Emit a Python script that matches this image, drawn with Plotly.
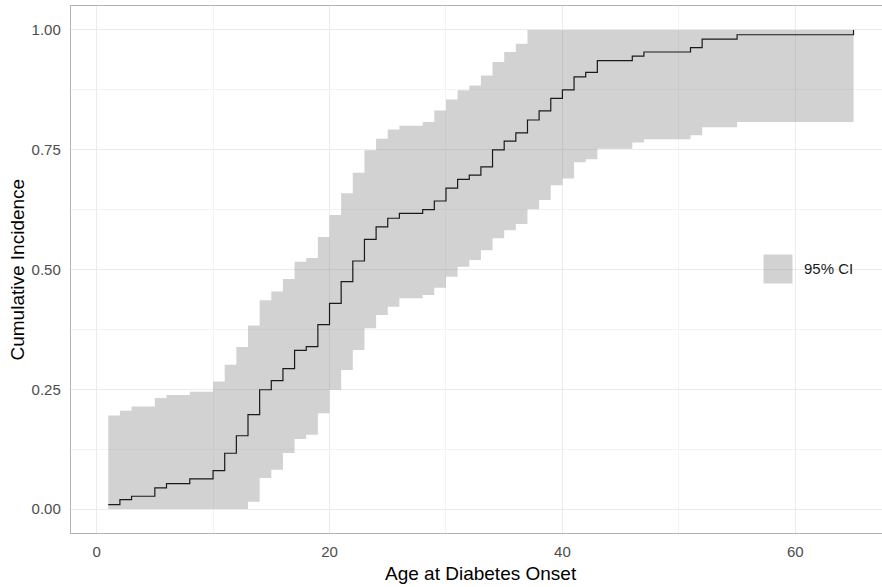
import plotly.graph_objects as go

# ---- data ----
ages = [1, 2, 3, 5, 6, 8, 10, 11, 12, 13, 14, 15, 16, 17, 18, 19, 20, 21, 22, 23,
        24, 25, 26, 28, 29, 30, 31, 32, 33, 34, 35, 36, 37, 38, 39, 40, 41, 42, 43,
        46, 47, 51, 52, 55, 65]
cum_inc = [0.0094, 0.0198, 0.0267, 0.044, 0.053, 0.063, 0.080, 0.1165, 0.153, 0.197,
           0.249, 0.268, 0.293, 0.331, 0.339, 0.385, 0.4295, 0.4746, 0.5177, 0.563,
           0.589, 0.607, 0.617, 0.625, 0.643, 0.670, 0.688, 0.697, 0.714, 0.7496,
           0.768, 0.785, 0.812, 0.831, 0.857, 0.875, 0.902, 0.9115, 0.936,
           0.9455, 0.954, 0.963, 0.981, 0.990, 1.0]
ci_lower = [0, 0, 0, 0, 0, 0, 0, 0, 0, 0.015,
            0.065, 0.082, 0.117, 0.146, 0.155, 0.200, 0.249, 0.290, 0.332, 0.3775,
            0.405, 0.4225, 0.440, 0.447, 0.462, 0.485, 0.506, 0.520, 0.540, 0.565,
            0.582, 0.595, 0.626, 0.645, 0.676, 0.690, 0.724, 0.730, 0.752,
            0.765, 0.772, 0.780, 0.797, 0.808, 0.813]
ci_upper = [0.195, 0.205, 0.214, 0.232, 0.238, 0.245, 0.266, 0.301, 0.338, 0.383,
            0.436, 0.454, 0.480, 0.516, 0.524, 0.568, 0.6135, 0.659, 0.702, 0.749,
            0.773, 0.792, 0.800, 0.808, 0.832, 0.855, 0.874, 0.884, 0.905, 0.933,
            0.954, 0.971, 1.0, 1.0, 1.0, 1.0, 1.0, 1.0, 1.0,
            1.0, 1.0, 1.0, 1.0, 1.0, 1.0]

x_ticks = [0, 20, 40, 60]
y_ticks = [0, 0.25, 0.5, 0.75, 1.0]
y_tick_labels = ["0.00", "0.25", "0.50", "0.75", "1.00"]
x_title = "Age at Diabetes Onset"
y_title = "Cumulative Incidence"
legend_label = "95% CI"

# ---- style ----
W, H = 882, 587
ML, MR, MT, MB = 71, 0, 6, 54
PW, PH = W - ML - MR, H - MT - MB
FONT = "Liberation Sans, Arial, sans-serif"
RIBBON = "rgba(127,127,127,0.35)"
GRID = "#ebebeb"
GRID_MINOR = "#f3f3f3"
BORDER = "#b3b3b3"
TICKTXT = "#4d4d4d"


def px_x(p):
    return (p - ML) / PW


def px_y(p):
    return (H - MB - p) / PH


fig = go.Figure()
fig.add_trace(go.Scatter(x=ages, y=ci_lower, mode="lines", line=dict(width=0, shape="hv"),
                         hoverinfo="skip", showlegend=False))
fig.add_trace(go.Scatter(x=ages, y=ci_upper, mode="lines", line=dict(width=0, shape="hv"),
                         fill="tonexty", fillcolor=RIBBON, hoverinfo="skip", showlegend=False))
fig.add_trace(go.Scatter(x=ages, y=cum_inc, mode="lines",
                         line=dict(color="#1a1a1a", width=1.2, shape="hv"), showlegend=False))

x_lo = min(ages) - 0.05 * (max(ages) - min(ages))
x_hi = x_lo + (max(ages) - min(ages)) * 1.1 * (PW / 819.8)

fig.update_xaxes(range=[x_lo, x_hi], tickvals=x_ticks, showgrid=True, gridcolor=GRID, gridwidth=1,
                 minor=dict(dtick=10, tick0=0, showgrid=True, gridcolor=GRID_MINOR, gridwidth=1),
                 showline=True, linecolor=BORDER, linewidth=1.4, mirror=True,
                 ticks="outside", ticklen=5, tickcolor="rgba(0,0,0,0)",
                 tickfont=dict(family=FONT, size=15, color=TICKTXT), zeroline=False)
fig.update_yaxes(range=[-0.05, 1.05], tickvals=y_ticks, ticktext=y_tick_labels,
                 showgrid=True, gridcolor=GRID, gridwidth=1,
                 minor=dict(dtick=0.125, tick0=0, showgrid=True, gridcolor=GRID_MINOR, gridwidth=1),
                 showline=True, linecolor=BORDER, linewidth=1.4, mirror=False,
                 ticks="outside", ticklen=6, tickcolor="rgba(0,0,0,0)",
                 tickfont=dict(family=FONT, size=15, color=TICKTXT), zeroline=False)

annotations = [
    dict(text=x_title, xref="x", x=(x_lo + max(ages) + 0.05 * (max(ages) - min(ages))) / 2,
         yref="paper", y=px_y(573), xanchor="center", yanchor="middle", showarrow=False,
         font=dict(family=FONT, size=19, color="#000000")),
    dict(text=y_title, xref="paper", x=px_x(17), yref="y", y=0.5, textangle=-90,
         xanchor="center", yanchor="middle", showarrow=False,
         font=dict(family=FONT, size=19, color="#000000")),
    dict(text=legend_label, xref="paper", x=px_x(802), yref="paper", y=px_y(268.5),
         xanchor="left", yanchor="middle", showarrow=False,
         font=dict(family=FONT, size=15, color="#1a1a1a")),
]
shapes = [
    dict(type="rect", xref="paper", yref="paper", x0=px_x(763.5), x1=px_x(792.5),
         y0=px_y(283.5), y1=px_y(254.5), fillcolor=RIBBON, line=dict(width=0), layer="above"),
]

fig.update_layout(width=W, height=H, margin=dict(l=ML, r=MR, t=MT, b=MB, pad=0),
                  plot_bgcolor="white", paper_bgcolor="white", showlegend=False,
                  annotations=annotations, shapes=shapes,
                  font=dict(family=FONT))

fig.write_html("out.html")
